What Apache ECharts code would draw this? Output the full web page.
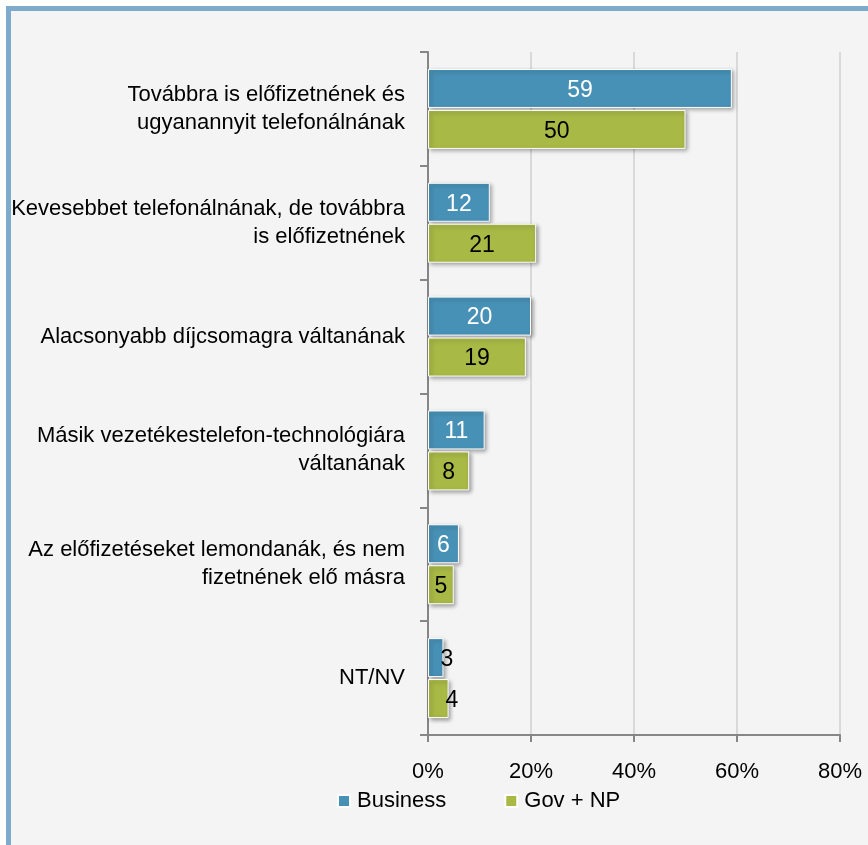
<!DOCTYPE html>
<html>
<head>
<meta charset="utf-8">
<script src="https://cdn.jsdelivr.net/npm/echarts@6/dist/echarts.min.js"></script>
<style>
  html, body { margin: 0; padding: 0; background: #ffffff; }
  #frame {
    position: absolute; left: 6px; top: 6px; width: 862px; height: 839px;
    background: #f4f4f4; border-left: 5px solid #7eaacb; border-top: 5px solid #7eaacb;
    box-sizing: border-box;
  }
  #chart { position: absolute; left: 0; top: 0; width: 868px; height: 845px; }
</style>
</head>
<body>
<div id="frame"></div>
<div id="chart"></div>
<script>
const categories = [
  'Továbbra is előfizetnének és\nugyanannyit telefonálnának',
  'Kevesebbet telefonálnának, de továbbra\nis előfizetnének',
  'Alacsonyabb díjcsomagra váltanának',
  'Másik vezetékestelefon-technológiára\nváltanának',
  'Az előfizetéseket lemondanák, és nem\nfizetnének elő másra',
  'NT/NV',
];
const business = [59, 12, 20, 11, 6, 3];
const govNp = [50, 21, 19, 8, 5, 4];
const xTicks = [0, 20, 40, 60, 80];

const font = '"Liberation Sans", Arial, sans-serif';

// tiny bars: label sits just past the bar end, in black
function barData(values, labelColor) {
  return values.map((v) => {
    if (v < 5) {
      return { value: v, label: { position: 'right', distance: -3, color: '#000000' } };
    }
    return { value: v, label: { color: labelColor } };
  });
}

const shadow = {
  borderColor: '#ffffff',
  borderWidth: 1,
  shadowBlur: 4,
  shadowColor: 'rgba(0,0,0,0.35)',
  shadowOffsetX: 2,
  shadowOffsetY: 2,
};

const chart = echarts.init(document.getElementById('chart'));
chart.setOption({
  backgroundColor: 'transparent',
  animation: false,
  textStyle: { fontFamily: font },
  grid: { left: 428, right: 28, top: 52, bottom: 110, outerBoundsMode: 'none' },
  legend: {
    left: 337,
    top: 790,
    padding: 0,
    itemWidth: 12,
    itemHeight: 12,
    itemGap: 58,
    icon: 'rect',
    textStyle: { fontSize: 22, color: '#000000', fontFamily: font, padding: [0, 0, 0, 2] },
    data: ['Business', 'Gov + NP'],
  },
  xAxis: {
    type: 'value',
    min: xTicks[0],
    max: xTicks[xTicks.length - 1],
    interval: 20,
    axisLine: { show: true, lineStyle: { color: '#868686', width: 2 } },
    axisTick: { show: true, length: 7, lineStyle: { color: '#868686', width: 2 } },
    splitLine: { show: true, lineStyle: { color: '#d9d9d9', width: 2 } },
    axisLabel: {
      formatter: '{value}%',
      fontSize: 22,
      color: '#000000',
      margin: 26,
      fontFamily: font,
    },
  },
  yAxis: {
    type: 'category',
    inverse: true,
    data: categories,
    axisLine: { show: true, lineStyle: { color: '#868686', width: 2 } },
    axisTick: { show: true, length: 8, lineStyle: { color: '#868686', width: 2 } },
    axisLabel: {
      fontSize: 22,
      lineHeight: 28,
      color: '#000000',
      margin: 23,
      align: 'right',
      padding: [6, 0, 0, 0],
      fontFamily: font,
    },
  },
  series: [
    {
      name: 'Business',
      type: 'bar',
      data: barData(business, '#ffffff'),
      barWidth: 39,
      barGap: '5%',
      barCategoryGap: '30%',
      itemStyle: Object.assign({ color: '#4891b6' }, shadow),
      label: { show: true, position: 'inside', fontSize: 23, offset: [0, 2], fontFamily: font },
    },
    {
      name: 'Gov + NP',
      type: 'bar',
      data: barData(govNp, '#000000'),
      barWidth: 39,
      barGap: '5%',
      barCategoryGap: '30%',
      itemStyle: Object.assign({ color: '#a8b946' }, shadow),
      label: { show: true, position: 'inside', fontSize: 23, offset: [0, 2], fontFamily: font },
    },
  ],
});
</script>
</body>
</html>
